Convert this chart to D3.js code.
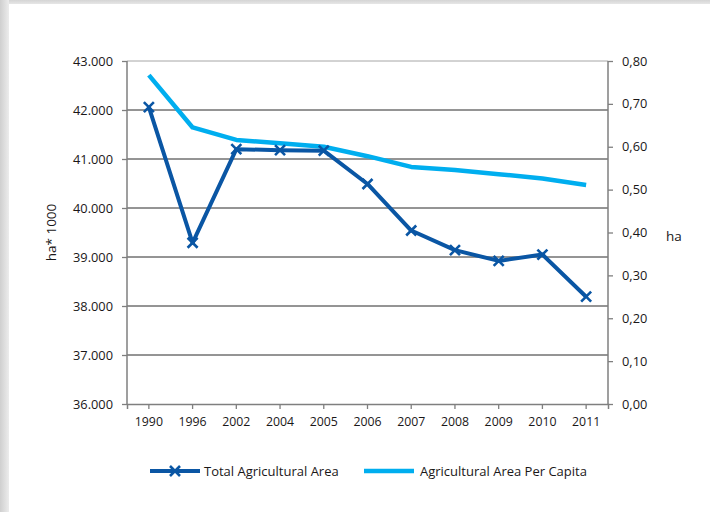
<!DOCTYPE html>
<html>
<head>
<meta charset="utf-8">
<script src="https://cdn.jsdelivr.net/npm/d3@7/dist/d3.min.js"></script>
<style>
  html, body { margin: 0; padding: 0; background: #fff; }
  svg { display: block; }
  text { font-family: "Open Sans", "Noto Sans", sans-serif; fill: #1a1718; }
</style>
</head>
<body>
<svg id="chart" width="710" height="512"></svg>
<script>
// Years along the bottom axis
const years = ["1990", "1996", "2002", "2004", "2005", "2006", "2007", "2008", "2009", "2010", "2011"];
// Total agricultural area, thousand hectares (left axis)
const totalArea = [42060, 39290, 41200, 41180, 41170, 40490, 39540, 39140, 38920, 39050, 38190];
// Agricultural area per capita, hectares (right axis)
const perCapita = [0.767, 0.645, 0.616, 0.608, 0.600, 0.578, 0.553, 0.546, 0.536, 0.526, 0.511];
// Axis ticks
const leftTicks = [36000, 37000, 38000, 39000, 40000, 41000, 42000, 43000];
const rightTicks = [0, 0.1, 0.2, 0.3, 0.4, 0.5, 0.6, 0.7, 0.8];
const seriesNames = ["Total Agricultural Area", "Agricultural Area Per Capita"];

const darkBlue = "#0a56a4";
const lightBlue = "#00aeef";

const svg = d3.select("#chart");

// Card frame with soft grey shading along the top and left
const defs = svg.append("defs");
const gL = defs.append("linearGradient").attr("id", "shadeL").attr("x1", 0).attr("x2", 1).attr("y1", 0).attr("y2", 0);
gL.append("stop").attr("offset", 0).attr("stop-color", "#cfcfcf");
gL.append("stop").attr("offset", 1).attr("stop-color", "#ececec");
const gT = defs.append("linearGradient").attr("id", "shadeT").attr("x1", 0).attr("x2", 0).attr("y1", 0).attr("y2", 1);
gT.append("stop").attr("offset", 0).attr("stop-color", "#d4d4d4");
gT.append("stop").attr("offset", 1).attr("stop-color", "#e6e6e6");
svg.append("rect").attr("x", 0).attr("y", 0).attr("width", 710).attr("height", 4).attr("fill", "url(#shadeT)");
svg.append("rect").attr("x", 0).attr("y", 0).attr("width", 9).attr("height", 512).attr("fill", "url(#shadeL)");
svg.append("rect").attr("x", 9).attr("y", 4).attr("width", 701).attr("height", 508).attr("fill", "#fff");

const plot = { left: 127, right: 608, top: 61, bottom: 404 };

const x = d3.scaleBand().domain(years).range([plot.left, plot.right]);
const yL = d3.scaleLinear().domain([36000, 43000]).range([plot.bottom, plot.top]);
const yR = d3.scaleLinear().domain([0, 0.8]).range([plot.bottom, plot.top]);
const cx = d => x(d) + x.bandwidth() / 2;

const fmtL = v => d3.format(",.3f")(v / 1000).replace(",", "");   // 43.000
const fmtR = v => d3.format(".2f")(v).replace(".", ",");          // 0,80

// Horizontal gridlines
svg.append("g").selectAll("line")
  .data(leftTicks.filter(t => t > 36000 && t < 43000))
  .join("line")
  .attr("x1", plot.left).attr("x2", plot.right)
  .attr("y1", d => yL(d)).attr("y2", d => yL(d))
  .attr("stroke", "#2b2b2b").attr("stroke-width", 1);
// Top frame line
svg.append("line")
  .attr("x1", plot.left).attr("x2", plot.right)
  .attr("y1", yL(43000)).attr("y2", yL(43000))
  .attr("stroke", "#a6a6a6").attr("stroke-width", 1);

// Left axis
const axL = svg.append("g").attr("transform", `translate(${plot.left},0)`)
  .call(d3.axisLeft(yL).tickValues(leftTicks).tickFormat(fmtL).tickSize(5).tickPadding(9));
// Right axis
const axR = svg.append("g").attr("transform", `translate(${plot.right},0)`)
  .call(d3.axisRight(yR).tickValues(rightTicks).tickFormat(fmtR).tickSize(5).tickPadding(9));
// Bottom axis
const axB = svg.append("g").attr("transform", `translate(0,${plot.bottom})`)
  .call(d3.axisBottom(x).tickSize(5).tickPadding(8).tickSizeOuter(5));

[axL, axR, axB].forEach(g => {
  g.select(".domain").attr("stroke", "#7f7f7f").attr("stroke-width", 1.5);
  g.selectAll(".tick line").attr("stroke", "#7f7f7f").attr("stroke-width", 1.3);
  g.selectAll(".tick text").attr("font-size", 12.8).attr("fill", "#1a1718")
    .style("font-family", "'Open Sans', 'Noto Sans', sans-serif");
});
axB.selectAll(".tick text").attr("font-size", 12.3);
axL.select(".domain").attr("d", `M0,${plot.top}V${plot.bottom}`);
axR.select(".domain").attr("d", `M0,${plot.top}V${plot.bottom}`);

// Axis titles
svg.append("text")
  .attr("transform", `translate(56,${(plot.top + plot.bottom) / 2}) rotate(-90)`)
  .attr("text-anchor", "middle").attr("font-size", 13.5).text("ha* 1000");
svg.append("text")
  .attr("x", 666).attr("y", 241)
  .attr("font-size", 13.5).text("ha");

// Per-capita line (right axis)
const linePC = d3.line().x((d, i) => cx(years[i])).y(d => yR(d));
svg.append("path").datum(perCapita)
  .attr("d", linePC)
  .attr("fill", "none").attr("stroke", lightBlue).attr("stroke-width", 4.5)
  .attr("stroke-linejoin", "round");

// Total area line (left axis) with cross markers
const lineTA = d3.line().x((d, i) => cx(years[i])).y(d => yL(d));
svg.append("path").datum(totalArea)
  .attr("d", lineTA)
  .attr("fill", "none").attr("stroke", darkBlue).attr("stroke-width", 4)
  .attr("stroke-linejoin", "round");

const crossPath = (px, py, r) => `M${px - r},${py - r}L${px + r},${py + r}M${px - r},${py + r}L${px + r},${py - r}`;
svg.append("g").selectAll("path")
  .data(totalArea)
  .join("path")
  .attr("d", (d, i) => crossPath(cx(years[i]), yL(d), 5))
  .attr("stroke", darkBlue).attr("stroke-width", 2.6).attr("fill", "none");

// Legend
const legend = svg.append("g");
const legY = 471;
legend.append("line").attr("x1", 150).attr("x2", 200).attr("y1", legY).attr("y2", legY)
  .attr("stroke", darkBlue).attr("stroke-width", 4);
legend.append("path").attr("d", crossPath(175, legY, 5))
  .attr("stroke", darkBlue).attr("stroke-width", 2.6).attr("fill", "none");
legend.append("text").attr("x", 204).attr("y", legY + 4.5).attr("font-size", 13).text(seriesNames[0]);
legend.append("line").attr("x1", 364).attr("x2", 414).attr("y1", legY).attr("y2", legY)
  .attr("stroke", lightBlue).attr("stroke-width", 4.5);
legend.append("text").attr("x", 420).attr("y", legY + 4.5).attr("font-size", 13).text(seriesNames[1]);
</script>
</body>
</html>
